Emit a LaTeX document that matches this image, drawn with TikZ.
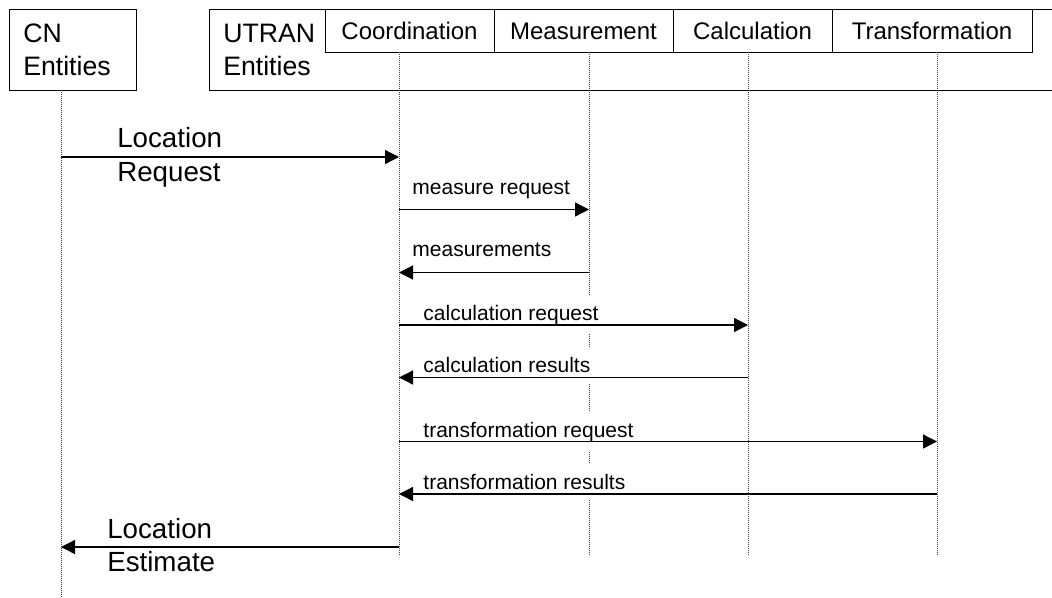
\documentclass[tikz,border=0pt]{standalone}
\usepackage{fontspec}
\setmainfont{Liberation Sans}
\usetikzlibrary{arrows.meta}
\begin{document}
\begin{tikzpicture}[x=0.75pt,y=-0.75pt,
  frame/.style={draw=black,line width=0.75pt},
  entitybox/.style={frame,minimum width=#1,minimum height=60.75pt,inner sep=0pt},
  rolebox/.style={frame,minimum height=32.25pt,inner sep=0pt,minimum width=#1,
    text height=12.9pt,text depth=0pt,font=\fontsize{18}{21}\selectfont},
  bigtext/.style={inner sep=0pt,align=left,font=\fontsize{20}{24.5}\selectfont},
  lifeline/.style={draw=black!75,line width=0.75pt,dash pattern=on 0.75pt off 0.75pt},
  msg/.style={draw=black,line width=0.95pt,-{Triangle[length=10.5pt,width=10.5pt]}},
  msglabel/.style={fill=white,inner xsep=2pt,inner ysep=7.5pt,anchor=base west,font=\fontsize{15.75}{18}\selectfont},
  biglabel/.style={inner sep=0pt,align=left,anchor=base west,font=\fontsize{20.8}{25}\selectfont}]

\useasboundingbox (0,0) rectangle (1052,597);

% core network entity (multi-line text is anchored on its last baseline)
\node[entitybox=95.25pt] (cn) at (72.5,49.5) {};
\node[bigtext,anchor=base west] (cnname) at (23,75) {CN\\Entities};

% UTRAN entities frame (runs off to the right)
\draw[frame] (1052,9) -- (209,9) -- (209,90) -- (1052,90);
\node[bigtext,anchor=base west] (utranname) at (223,75) {UTRAN\\Entities};

% UTRAN roles
\node[rolebox=126.75pt] (coord) at (409.5,30.5) {Coordination};
\node[rolebox=134.25pt] (meas)  at (583.5,30.5) {Measurement};
\node[rolebox=119.25pt] (calc)  at (752.5,30.5) {Calculation};
\node[rolebox=150pt]    (trans) at (932,30.5)   {Transformation};

% lifeline ends
\coordinate (cnTop) at (61,90);  \coordinate (cnEnd) at (61,597);
\coordinate (coTop) at (399,52); \coordinate (coEnd) at (399,555);
\coordinate (meTop) at (589,52); \coordinate (meEnd) at (589,555);
\coordinate (caTop) at (748,52); \coordinate (caEnd) at (748,555);
\coordinate (trTop) at (937,52); \coordinate (trEnd) at (937,555);

\draw[lifeline] (cnTop) -- (cnEnd);
\draw[lifeline] (coTop) -- (coEnd);
\draw[lifeline] (meTop) -- (meEnd);
\draw[lifeline] (caTop) -- (caEnd);
\draw[lifeline] (trTop) -- (trEnd);

% message rows
\coordinate (r1) at (0,157);
\coordinate (r2) at (0,209.5);
\coordinate (r3) at (0,272.5);
\coordinate (r4) at (0,325);
\coordinate (r5) at (0,377.5);
\coordinate (r6) at (0,441.5);
\coordinate (r7) at (0,494);
\coordinate (r8) at (0,547);

% message labels
\node[biglabel] (lreq) at (117,181) {Location\\Request};
\node[msglabel] (l2) at (409.5,194)   {measure request};
\node[msglabel] (l3) at (409.5,256.5) {measurements};
\node[msglabel] (l4) at (420.5,320)   {calculation request};
\node[msglabel] (l5) at (420.5,372.5) {calculation results};
\node[msglabel] (l6) at (420.5,437)   {transformation request};
\node[msglabel] (l7) at (420.5,489)   {transformation results};
\node[biglabel] (lest) at (107,571.5) {Location\\Estimate};

% messages
\draw[msg] (cnTop |- r1) -- (coTop |- r1);
\draw[msg] (coTop |- r2) -- (meTop |- r2);
\draw[msg] (meTop |- r3) -- (coTop |- r3);
\draw[msg] (coTop |- r4) -- (caTop |- r4);
\draw[msg] (caTop |- r5) -- (coTop |- r5);
\draw[msg] (coTop |- r6) -- (trTop |- r6);
\draw[msg] (trTop |- r7) -- (coTop |- r7);
\draw[msg] (coTop |- r8) -- (cnTop |- r8);
\end{tikzpicture}
\end{document}
